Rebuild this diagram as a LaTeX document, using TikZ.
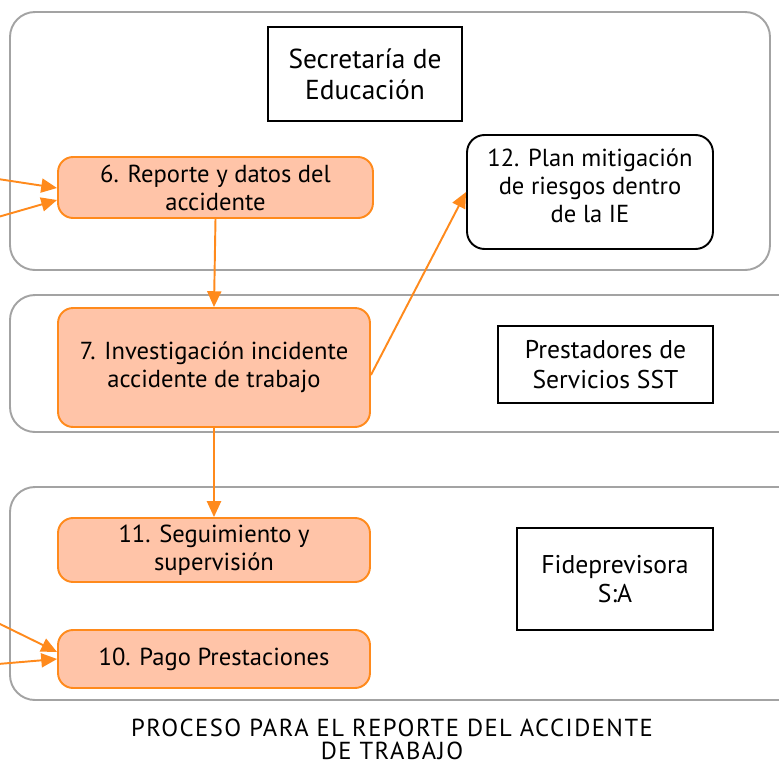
\documentclass[tikz,border=0pt]{standalone}
\usepackage{fontspec}
\setmainfont{PT Sans}
\usetikzlibrary{arrows.meta}
\definecolor{lineorange}{HTML}{FF8A1C}
\definecolor{fillpeach}{HTML}{FFC4A8}
\definecolor{lanegray}{HTML}{A3A3A3}
\tikzset{
  lane/.style={draw=lanegray, line width=1.1pt, rounded corners=0.5cm},
  task/.style={draw=lineorange, fill=fillpeach, line width=1.1pt, rounded corners=0.3cm, align=center, inner sep=0pt},
  plainbox/.style={draw=black, line width=1.1pt, align=center, inner sep=0pt, font=\fontsize{14.6}{17}\selectfont},
  roundbox/.style={draw=black, line width=1.1pt, rounded corners=0.35cm, align=center, inner sep=0pt},
  flow/.style={draw=lineorange, line width=1.1pt, -{Triangle[length=9pt,width=8pt]}}
}
\begin{document}
\begin{tikzpicture}[x=0.02cm, y=-0.02cm, font=\fontsize{14}{16}\selectfont]
        \useasboundingbox (0,0) rectangle (779,765);
        % swimlanes
        \draw [lane] (10,12) rectangle (770,270);
        \draw [lane] (10,295) rectangle (810,432);
        \draw [lane] (10,487) rectangle (810,700);
        % participants
        \node (sed) [plainbox, minimum width=3.88cm, minimum height=1.88cm, font=\fontsize{15.6}{17.5}\selectfont] at (365,74) {Secretaría de\\Educación};
        \node (sst) [plainbox, minimum width=4.3cm, minimum height=1.54cm] at (605.5,364.5) {Prestadores de\\Servicios SST};
        \node (fid) [plainbox, minimum width=3.92cm, minimum height=2.04cm] at (615,579) {Fideprevisora\\S:A};
        % tasks
        \node (v6) [task, minimum width=6.3cm, minimum height=1.22cm] at (215.5,187.5) {6. Reporte y datos del\\accidente};
        \node (v7) [task, minimum width=6.24cm, minimum height=2.38cm] at (214,367.5) {7. Investigación incidente\\accidente de trabajo};
        \node (v11) [task, minimum width=6.24cm, minimum height=1.28cm] at (214,550) {11. Seguimiento y\\supervisión};
        \node (v10) [task, minimum width=6.24cm, minimum height=1.16cm] at (214,659) {10. Pago Prestaciones};
        \node (v12) [roundbox, minimum width=4.92cm, minimum height=2.28cm] at (590,192) {12. Plan mitigación\\de riesgos dentro\\de la IE\\[-0.3cm]};
        \node (cap) [align=center, inner sep=0pt, font=\fontsize{14}{13.2}\selectfont\addfontfeature{LetterSpace=6}] at (392,739.5) {PROCESO PARA EL REPORTE DEL ACCIDENTE\\DE TRABAJO};
        % incoming ends
        \coordinate (in6a) at (-2,179);
        \coordinate (in6b) at (-2,217);
        \coordinate (in10a) at (-2,623);
        \coordinate (in10b) at (-2,664);
        \draw [flow] (in6a) -- (v6.west |- 0,188);
        \draw [flow] (in6b) -- (v6.west |- 0,200);
        \draw [flow] (in10a) -- (v10.west |- 0,652);
        \draw [flow] (in10b) -- (v10.west |- 0,659);
        \draw [flow] (v6.south) -- (v7.north);
        \draw [flow] (v7.south) -- (v11.north);
        \draw [flow] (v7.east |- 0,375) -- (v12.west);
\end{tikzpicture}
\end{document}
